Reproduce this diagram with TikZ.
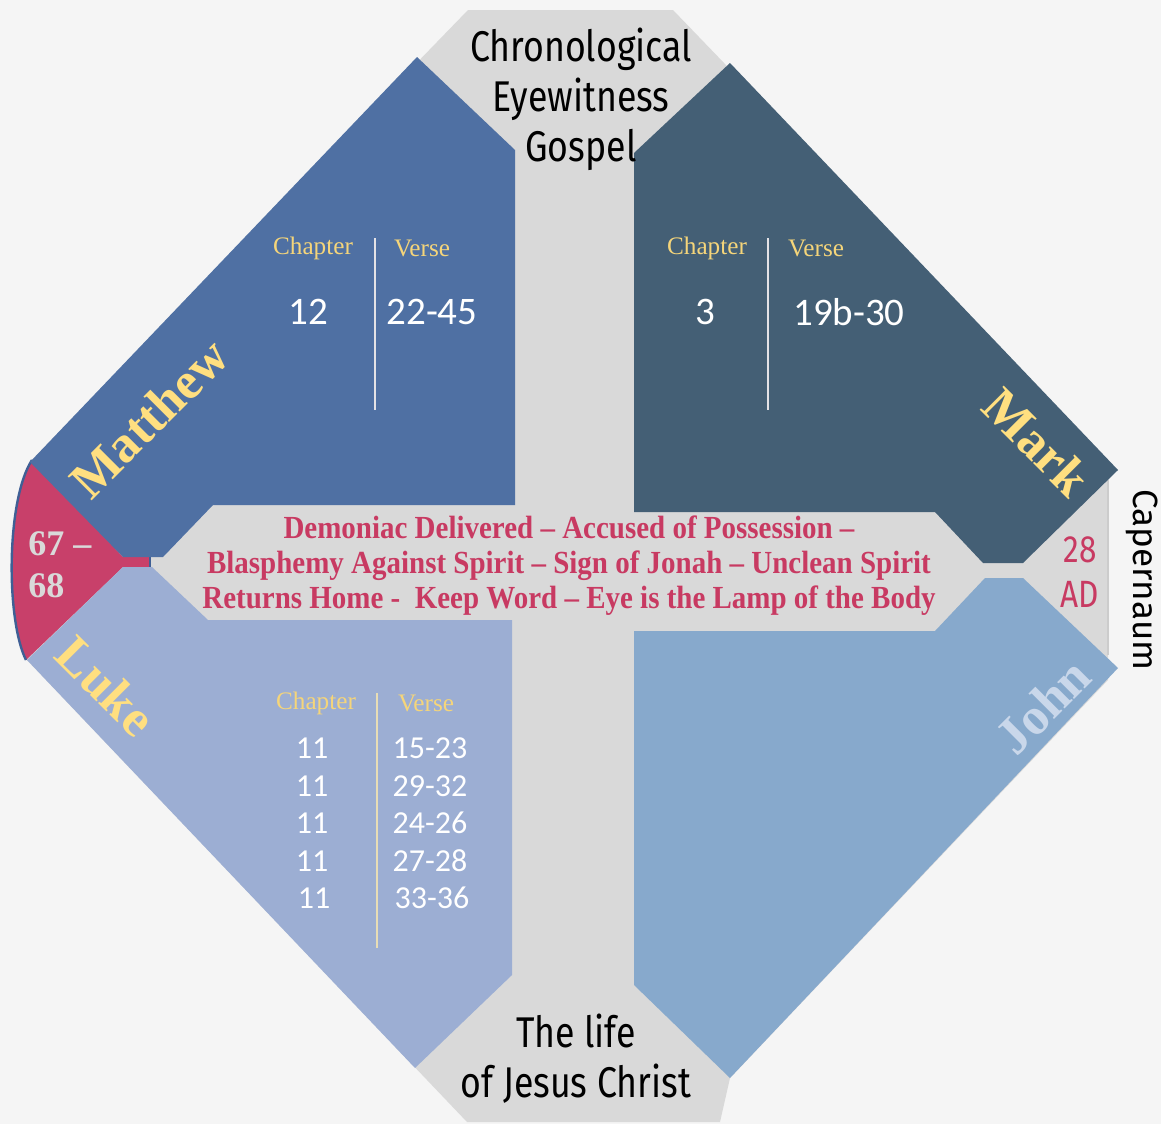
\documentclass[tikz,border=0pt]{standalone}
\usepackage{fontspec}
\setmainfont{Liberation Serif}
\newfontfamily\headfont[FakeStretch=0.83]{Fira Sans}
\newfontfamily\townfont{Fira Sans}
\newfontfamily\numfont{Carlito}
\newfontfamily\bandfont[FakeStretch=0.9]{Liberation Serif}
\definecolor{bgcol}{HTML}{F5F5F5}
\definecolor{graycol}{HTML}{D9D9D9}
\definecolor{mattcol}{HTML}{4F70A3}
\definecolor{markcol}{HTML}{445F75}
\definecolor{lukecol}{HTML}{9CAED3}
\definecolor{johncol}{HTML}{87A9CC}
\definecolor{redcol}{HTML}{C8406A}
\definecolor{bandred}{HTML}{C83A62}
\definecolor{namecol}{HTML}{FFDF80}
\definecolor{chapcol}{HTML}{F5D57A}
\definecolor{johntext}{HTML}{C9D7EA}
\definecolor{sepcol}{HTML}{E4E2E6}
\definecolor{sepluke}{HTML}{E8DDB5}
\definecolor{rimcol}{HTML}{3F5F95}
\begin{document}
\begin{tikzpicture}[x=0.5pt, y=-0.5pt,
    headtxt/.style={align=center, inner sep=0pt, font=\headfont\fontsize{21.5}{25}\selectfont},
    gospel/.style={rotate=#1, inner sep=0pt, text=namecol, font=\bfseries\fontsize{26}{30}\selectfont},
    chaptxt/.style={inner sep=0pt, text=chapcol, font=\fontsize{12.6}{14}\selectfont},
    bignum/.style={inner sep=0pt, text=white, font=\numfont\fontsize{19.5}{22}\selectfont},
    smallnum/.style={inner sep=0pt, text=white, font=\numfont\fontsize{16}{18}\selectfont},
    sepline/.style={draw=sepcol, line width=1.2pt}]
  \useasboundingbox[fill=bgcol] (0,0) rectangle (1161,1124);
  \fill[graycol] (468,10) -- (673,10) -- (1108,462) -- (1108,680) -- (730,1078) -- (720,1122)
    -- (467,1122) -- (27,660) -- (30,462) -- cycle;
  \draw[gray!40, line width=0.6pt] (1108,480) -- (1108,655);
  % red date cap
  \fill[redcol] (32,460) .. controls (6,500) and (6,620) .. (26,660) -- (123,567) -- (150,567)
    -- (150,557) -- (123,557) -- cycle;
  \draw[rimcol, line width=1.2pt] (32,460) .. controls (6,500) and (6,620) .. (26,660);
  \draw[rimcol, line width=1.2pt] (150,556) -- (150,568);
  % the four gospels
  \fill[mattcol] (417,57) -- (515,150) -- (515,505) -- (213,505) -- (163,557) -- (123,557) -- (30,462) -- cycle;
  \fill[markcol] (730,63) -- (1118,470) -- (1023,563) -- (983,563) -- (935,512) -- (634,512) -- (634,153) -- cycle;
  \fill[lukecol] (27,660) -- (123,567) -- (152,567) -- (208,620) -- (512,620) -- (512,975) -- (415,1068) -- cycle;
  \fill[johncol] (985,578) -- (1023,578) -- (1118,668) -- (730,1078) -- (634,985) -- (634,631) -- (935,631) -- cycle;

  \node[headtxt] (toptitle) at (581,99) {Chronological\\Eyewitness\\Gospel};
  \node[headtxt] (bottitle) at (576,1059) {The life\\of Jesus Christ};

  \node[gospel=45] (matthew) at (149,418) {Matthew};
  \node[gospel=-45] (mark) at (1037,442) {Mark};
  \node[gospel=-45] (luke) at (106,686) {Luke};
  \node[gospel=45, text=johntext] (john) at (1043,706) {John};

  \node[anchor=west, align=left, inner sep=0pt, text=graycol, font=\bfseries\fontsize{18}{21}\selectfont] (years) at (28,565) {67 –\\68};
  \node[align=center, inner sep=0pt, text=bandred, font=\headfont\fontsize{19}{22.5}\selectfont] (date) at (1080,572) {28\\AD};
  \node[rotate=-90, anchor=base, inner sep=0pt, font=\townfont\fontsize{17.5}{20}\selectfont] (town) at (1133,580) {Capernaum};

  \node[align=center, inner sep=0pt, text=bandred, font=\bandfont\bfseries\fontsize{16.1}{17.5}\selectfont] (events) at (569,566)
    {Demoniac Delivered – Accused of Possession –\\Blasphemy Against Spirit – Sign of Jonah – Unclean Spirit\\Returns Home -\ \ Keep Word – Eye is the Lamp of the Body};

  % Matthew table
  \node[chaptxt] (chapM) at (313,248) {Chapter};
  \node[chaptxt] (verseM) at (422,248) {Verse};
  \coordinate (sepMtop) at (375,238);
  \coordinate (sepMbot) at (375,410);
  \draw[sepline] (sepMtop) -- (sepMbot);
  \node[bignum] (chM) at (308,312) {12};
  \node[bignum] (vsM) at (432,312) {22-45};

  % Mark table
  \node[chaptxt] (chapK) at (707,248) {Chapter};
  \node[chaptxt] (verseK) at (816,248) {Verse};
  \coordinate (sepKtop) at (768,238);
  \coordinate (sepKbot) at (768,410);
  \draw[sepline] (sepKtop) -- (sepKbot);
  \node[bignum] (chK) at (705,312) {3};
  \node[bignum] (vsK) at (849,312) {19b-30};

  % Luke table
  \node[chaptxt] (chapL) at (316,703) {Chapter};
  \node[chaptxt] (verseL) at (426,703) {Verse};
  \coordinate (sepLtop) at (377,693);
  \coordinate (sepLbot) at (377,948);
  \draw[sepline, draw=sepluke] (sepLtop) -- (sepLbot);
  \node[smallnum] (chL1) at (312,748) {11};
  \node[smallnum] (vsL1) at (430,748) {15-23};
  \node[smallnum] (chL2) at (312,786) {11};
  \node[smallnum] (vsL2) at (430,786) {29-32};
  \node[smallnum] (chL3) at (312,823) {11};
  \node[smallnum] (vsL3) at (430,823) {24-26};
  \node[smallnum] (chL4) at (312,861) {11};
  \node[smallnum] (vsL4) at (430,861) {27-28};
  \node[smallnum] (chL5) at (314,898) {11};
  \node[smallnum] (vsL5) at (432,898) {33-36};
\end{tikzpicture}
\end{document}
